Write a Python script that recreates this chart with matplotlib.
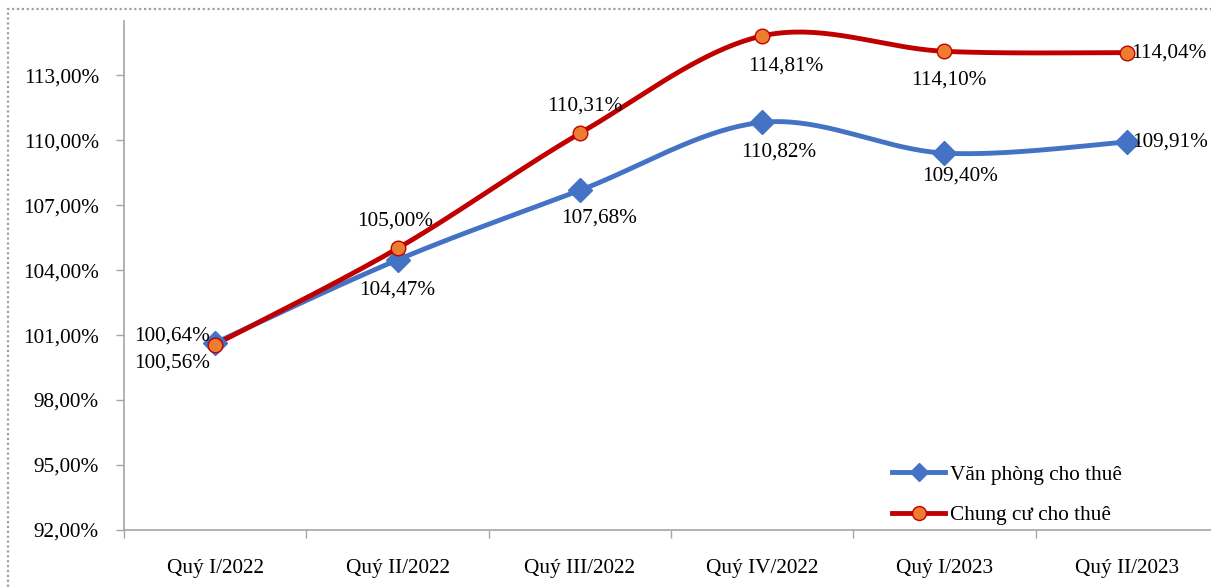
import matplotlib
matplotlib.use("Agg")
import matplotlib.pyplot as plt
import numpy as np
from matplotlib.patches import Rectangle
from matplotlib.ticker import FixedLocator

categories = ["Quý I/2022", "Quý II/2022", "Quý III/2022", "Quý IV/2022", "Quý I/2023", "Quý II/2023"]
van_phong = [100.64, 104.47, 107.68, 110.82, 109.40, 109.91]
chung_cu = [100.56, 105.00, 110.31, 114.81, 114.10, 114.04]
y_ticks = [92, 95, 98, 101, 104, 107, 110, 113]

plt.rcParams['font.family'] = ['Liberation Serif', 'DejaVu Serif']

W, H = 1211, 587
fig = plt.figure(figsize=(W/100, H/100), dpi=100)
left, right, bottom, top = 124, 1218, 530, 21
ax = fig.add_axes([left/W, 1-bottom/H, (right-left)/W, (bottom-top)/H])

def smooth(x, y, n=40):
    x = np.asarray(x, float); y = np.asarray(y, float)
    P = np.column_stack([x, y])
    out = []
    for i in range(len(P)-1):
        p0 = P[i-1] if i > 0 else P[i]
        p1 = P[i]; p2 = P[i+1]
        p3 = P[i+2] if i+2 < len(P) else P[i+1]
        c1 = p1 + (p2 - p0)/6
        c2 = p2 - (p3 - p1)/6
        t = np.linspace(0, 1, n)[:, None]
        seg = (1-t)**3*p1 + 3*(1-t)**2*t*c1 + 3*(1-t)*t**2*c2 + t**3*p2
        out.append(seg if i == 0 else seg[1:])
    out = np.vstack(out)
    return out[:, 0], out[:, 1]

xs = np.arange(len(categories))
blue = '#4472C4'
red = '#C00000'
orange = '#ED7D31'
lw = 3.5

sx, sy = smooth(xs, van_phong)
ax.plot(sx, sy, color=blue, lw=lw, solid_capstyle='round', zorder=3)
ax.plot(xs, van_phong, ls='none', marker='D', ms=12, color=blue, zorder=4)
sx, sy = smooth(xs, chung_cu)
ax.plot(sx, sy, color=red, lw=lw, solid_capstyle='round', zorder=3)
ax.plot(xs, chung_cu, ls='none', marker='o', ms=10.5, mfc=orange, mec=red, mew=1, zorder=4)

# legend proxies
ax.plot([], [], color=blue, lw=lw, marker='D', ms=9, label='Văn phòng cho thuê')
ax.plot([], [], color=red, lw=lw, marker='o', ms=10, mfc=orange, mec=red, label='Chung cư cho thuê')

def fmt(v):
    return f"{v:.2f}".replace('.', ',') + '%'

fs = 15.3
# label offsets in points (dx, dy, ha, va)
vp_off = [(-31, 5, 'center', 'center'), (0, -22, 'center', 'center'), (14, -20, 'center', 'center'),
          (12, -21.5, 'center', 'center'), (11, -16.5, 'center', 'center'), (4, 0, 'left', 'center')]
cc_off = [(-31, -13, 'center', 'center'), (-2, 19.5, 'center', 'center'), (3.5, 20, 'center', 'center'),
          (17, -22, 'center', 'center'), (3, -21, 'center', 'center'), (3, 0, 'left', 'center')]
for i, v in enumerate(van_phong):
    dx, dy, ha, va = vp_off[i]
    ax.annotate(fmt(v), (xs[i], v), xytext=(dx, dy), textcoords='offset points',
                ha=ha, va=va, fontsize=fs, zorder=5)
for i, v in enumerate(chung_cu):
    dx, dy, ha, va = cc_off[i]
    ax.annotate(fmt(v), (xs[i], v), xytext=(dx, dy), textcoords='offset points',
                ha=ha, va=va, fontsize=fs, zorder=5)

ax.set_xlim(-0.5, len(categories)-0.5)
ax.set_ylim(92, 115.5)
ax.set_yticks(y_ticks)
ax.set_yticklabels([fmt(t) for t in y_ticks], fontsize=fs)
ax.set_xticks(xs)
ax.set_xticklabels(categories, fontsize=fs)
ax.tick_params(axis='x', length=0, pad=21)
ax.xaxis.set_minor_locator(FixedLocator(np.arange(-0.5, len(categories), 1.0)))
ax.tick_params(axis='x', which='minor', length=6, color='#A6A6A6', width=1)
ax.tick_params(axis='y', length=6, color='#A6A6A6', width=1, pad=12)
for s in ['top', 'right']:
    ax.spines[s].set_visible(False)
for s in ['left', 'bottom']:
    ax.spines[s].set_color('#A6A6A6')
    ax.spines[s].set_linewidth(1.2)

leg = ax.legend(loc='center left', bbox_to_anchor=((892-left)/(right-left), 1-(495-top)/(bottom-top)),
                frameon=False, fontsize=fs, handlelength=2.5, labelspacing=0.95, handletextpad=0.25,
                borderaxespad=0, borderpad=0)

fig.patches.append(Rectangle((8/W, -0.05), 1.2, 1-9/H+0.05, transform=fig.transFigure,
                             fill=False, ec='#A0A0A0', ls=(0, (1, 1.2)), lw=1.6))

fig.savefig('out.png', dpi=100)
